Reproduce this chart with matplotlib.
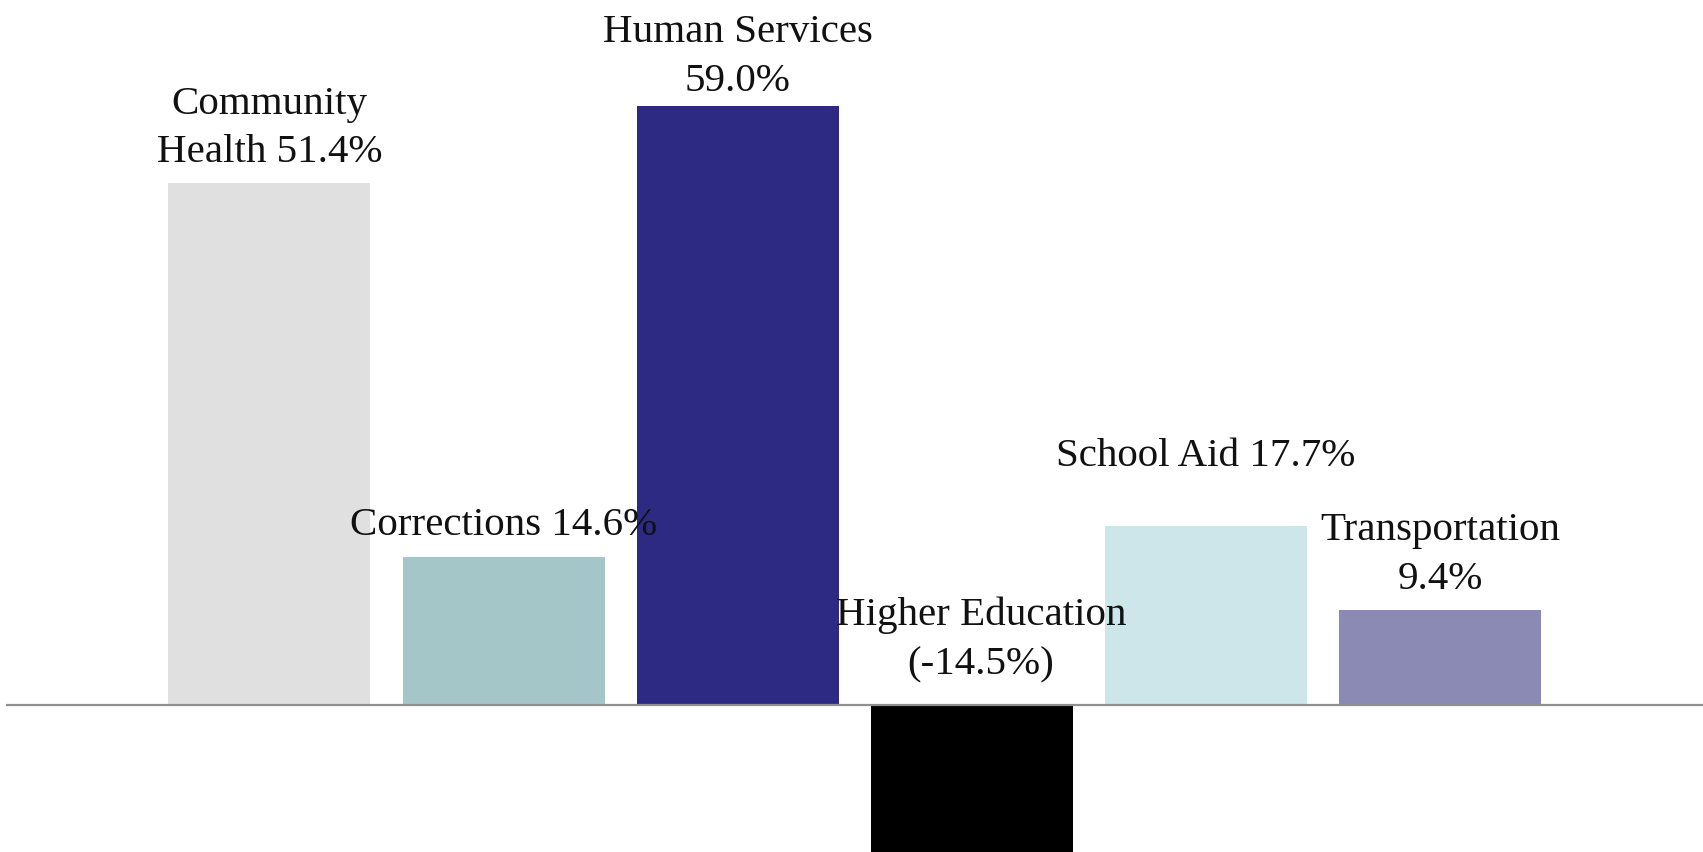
import matplotlib
matplotlib.use("Agg")
import matplotlib.pyplot as plt

# Percent change by budget area
categories = ["Community\nHealth", "Corrections", "Human Services",
              "Higher Education", "School Aid", "Transportation"]
values = [51.4, 14.6, 59.0, -14.5, 17.7, 9.4]
labels = ["Community\nHealth 51.4%", "Corrections 14.6%", "Human Services\n59.0%",
          "Higher Education\n(-14.5%)", "School Aid 17.7%", "Transportation\n9.4%"]
colors = ["#e0e0e0", "#a5c6c8", "#2d2a83", "#000000", "#cde6e9", "#8a8ab5"]

# Label placement: (horizontal shift in px, gap above bar top / baseline in px)
label_offsets = [(0, 13), (0, 14), (0, 7), (9, 23), (0, 52), (0, 13)]

plt.rcParams["font.family"] = ["Liberation Serif", "DejaVu Serif"]

fig = plt.figure(figsize=(17.03, 8.53), dpi=100)
ax = fig.add_axes([0, 0, 1, 1])

x = list(range(len(values)))
bars = ax.bar(x, values, width=0.863, color=colors, zorder=2)

ax.set_xlim(-1.151, 6.123)
ax.set_ylim(-14.46, 69.56)

# Zero line
ax.plot([-1.125, 6.123], [0, 0], color="#8f8f8f", linewidth=1.6, zorder=3,
        solid_capstyle="butt")

for xi, v, lab, (dx, dy) in zip(x, values, labels, label_offsets):
    anchor = max(v, 0)
    ax.annotate(lab, xy=(xi, anchor), xytext=(dx, dy), textcoords="offset pixels",
                ha="center", va="bottom", multialignment="center",
                fontsize=29.5, color="#111111", linespacing=1.42, zorder=4)

ax.axis("off")
fig.savefig("out.png", dpi=100)
